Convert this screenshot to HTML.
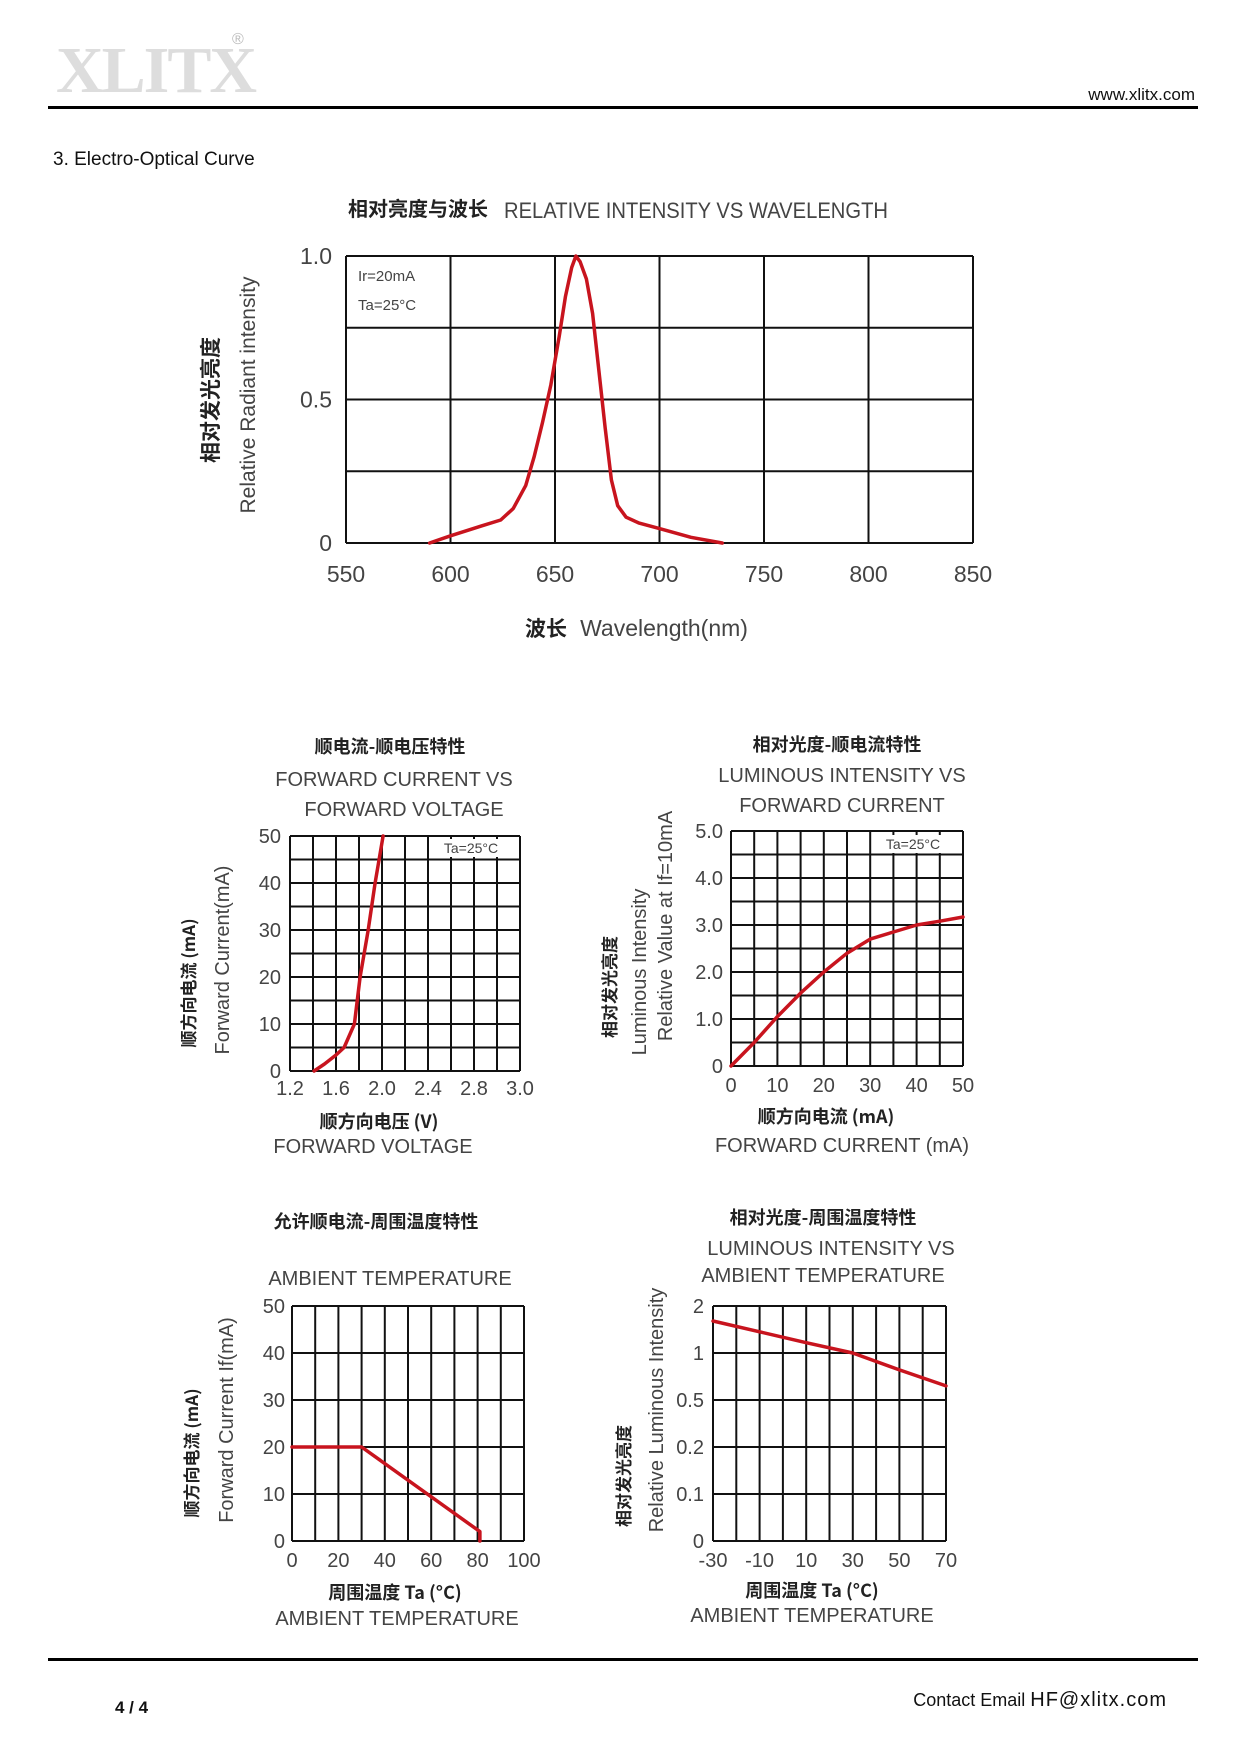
<!DOCTYPE html>
<html><head><meta charset="utf-8">
<style>
html,body{margin:0;padding:0;background:#fff;}
svg text{font-family:"Liberation Sans Narrow","Liberation Sans","Noto Sans CJK SC",sans-serif;fill:#444;}
.cn{font-family:"Noto Sans CJK SC","WenQuanYi Zen Hei",sans-serif;font-weight:bold;fill:#222;}
</style></head>
<body>
<svg id="page" width="1240" height="1754" viewBox="0 0 1240 1754" xmlns="http://www.w3.org/2000/svg">
<g>
<text x="56" y="92" style="font-family:'Liberation Serif',serif;font-weight:bold;font-size:66px;fill:#ddd;letter-spacing:-2px">XLITX</text>
<text x="232" y="44" style="font-size:16px;fill:#bbb">®</text>
<text x="1195" y="100" text-anchor="end" style="font-family:'Liberation Sans',sans-serif;font-size:17px;fill:#111">www.xlitx.com</text>
<rect x="48" y="106" width="1150" height="3" fill="#000"/>
</g>
<text x="53" y="165" style="font-family:'Liberation Sans',sans-serif;font-size:19px;fill:#111">3. Electro-Optical Curve</text>
<g id="charts"></g>
<g>
<rect x="48" y="1658" width="1150" height="3" fill="#000"/>
<text x="115" y="1713" style="font-family:'Liberation Sans',sans-serif;font-weight:bold;font-size:17px;fill:#111">4 / 4</text>
<text x="1167" y="1706" text-anchor="end" style="font-family:'Liberation Sans',sans-serif;font-size:18px;fill:#111">Contact Email <tspan style="font-size:20px;letter-spacing:1px"> HF@xlitx.com</tspan></text>
</g>
</svg>
<script>
// Chart 1: relative intensity vs wavelength
const wlX = [590,600,615,624,630,636,640,644,648,652,655,658,660,662,665,668,671,674,677,680,684,690,700,715,730];
const wlY = [0,0.025,0.06,0.08,0.12,0.2,0.3,0.42,0.55,0.72,0.86,0.96,1.0,0.98,0.92,0.8,0.6,0.4,0.22,0.13,0.09,0.07,0.05,0.02,0];
const wlXTicks = ['550','600','650','700','750','800','850'];
const wlYTicks = ['0','0.5','1.0'];
// Chart 2: forward current vs forward voltage
const fvV = [1.41,1.5,1.6,1.67,1.76,1.81,1.88,1.94,2.01];
const fvI = [0,1.5,3.4,5,10,20,30,40,50];
const fvXTicks = ['1.2','1.6','2.0','2.4','2.8','3.0'];
const fvYTicks = ['0','10','20','30','40','50'];
// Chart 3: luminous intensity vs forward current
const liI = [0,5,10,15,20,25,30,35,40,45,50];
const liL = [0,0.5,1.05,1.55,2.0,2.4,2.7,2.85,3.0,3.08,3.17];
const liXTicks = ['0','10','20','30','40','50'];
const liYTicks = ['0','1.0','2.0','3.0','4.0','5.0'];
// Chart 4: derating
const drT = [0,30,81,81];
const drI = [20,20,2,0];
const drXTicks = ['0','20','40','60','80','100'];
const drYTicks = ['0','10','20','30','40','50'];
// Chart 5: luminous intensity vs ambient temperature
const ltT = [-30,-10,10,30,50,70];
const ltL = [1.68,1.45,1.22,1.0,0.82,0.65];
const ltXTicks = ['-30','-10','10','30','50','70'];
const ltYTicks = ['0','0.1','0.2','0.5','1','2'];

const NS='http://www.w3.org/2000/svg';
const root=document.getElementById('charts');
function mk(tag,attrs,parent){const e=document.createElementNS(NS,tag);for(const k in attrs)e.setAttribute(k,attrs[k]);(parent||root).appendChild(e);return e;}
function txt(s,x,y,size,anchor,cls,parent,rot){const e=mk('text',{x:x,y:y,'font-size':size,'text-anchor':anchor||'middle'},parent);if(cls)e.setAttribute('class',cls);if(rot)e.setAttribute('transform','rotate(-90 '+x+' '+y+')');e.textContent=s;return e;}

function chart(o){
  const g=mk('g',{});
  
  
  const {L,R,T,B}=o;
  const sx=v=>L+(v-o.x0)/(o.x1-o.x0)*(R-L);
  const sy=o.sy?o.sy:(v=>B-(v-o.y0)/(o.y1-o.y0)*(B-T));
  const grid=mk('g',{},g);
  
  
  for(let i=0;i<=o.cols;i++){const x=L+i*(R-L)/o.cols;mk('line',{x1:x,x2:x,y1:T,y2:B,stroke:'#111','stroke-width':o.sw||2},grid);}
  for(let j=0;j<=o.rows;j++){const y=T+j*(B-T)/o.rows;mk('line',{x1:L,x2:R,y1:y,y2:y,stroke:'#111','stroke-width':o.sw||2},grid);}
  o.xt.forEach((t,i)=>{const e=txt(t,L+i*(R-L)/(o.xt.length-1),o.xly,o.fs,'middle',null,g);});
  o.yt.forEach((t,i)=>{const e=txt(t,o.ylx,B-i*(B-T)/(o.yt.length-1)+o.fs*0.35,o.fs,'end',null,g);});
  const pts=o.xs.map((v,i)=>sx(v).toFixed(1)+','+sy(o.ys[i]).toFixed(1)).join(' ');
  const pl=mk('polyline',{points:pts,fill:'none',stroke:'#c8141e','stroke-width':o.lw||3.5,'stroke-linejoin':'round','stroke-linecap':'round'},g);
  
  
  return g;
}
function label(s,x,y,size,cls,name,rot){const e=txt(s,x,y,size,'middle',cls,root,rot);return e;}
function note(s,x,y,size,name){const r=mk('rect',{x:x-32,y:y-14,width:64,height:18,fill:'#fff'});const e=txt(s,x,y,size,'middle',null);}

// Chart 1
chart({name:'wavelength-chart',L:346,R:973,T:256,B:543,x0:550,x1:850,y0:0,y1:1,cols:6,rows:4,xt:wlXTicks,yt:wlYTicks,xs:wlX,ys:wlY,xly:582,ylx:332,fs:23});
label('相对亮度与波长',418,216,20,'cn','chart1-title-cn');
const t1=txt('RELATIVE  INTENSITY  VS  WAVELENGTH',504,218,22,'start',null);


t1.setAttribute('textLength','384');
t1.setAttribute('lengthAdjust','spacingAndGlyphs');
label('波长',546,636,21,'cn','x-axis-title-cn');
label('Wavelength(nm)',664,636,23,null,'x-axis-title');
label('相对发光亮度',218,400,21,'cn','y-axis-title-cn',true);
label('Relative  Radiant  intensity',255,395,21,null,'y-axis-title',true);
const a1=txt('Ir=20mA',358,281,15,'start',null);
const a2=txt('Ta=25°C',358,310,15,'start',null);

// Chart 2
chart({name:'forward-voltage-chart',L:290,R:520,T:836,B:1071,x0:1.2,x1:3.2,y0:0,y1:50,cols:10,rows:10,xt:fvXTicks,yt:fvYTicks,xs:fvV,ys:fvI,xly:1095,ylx:281,fs:20});
label('顺电流-顺电压特性',390,753,18,'cn','chart2-title-cn');
label('FORWARD  CURRENT  VS',394,786,20,null,'chart2-title-1');
label('FORWARD  VOLTAGE',404,816,20,null,'chart2-title-2');
note('Ta=25°C',471,853,14,'chart2-condition');
label('顺方向电压 (V)',379,1128,18,'cn','chart2-x-title-cn');
label('FORWARD  VOLTAGE',373,1153,20,null,'chart2-x-title');
label('顺方向电流 (mA)',195,983,17,'cn','chart2-y-title-cn',true);
label('Forward  Current(mA)',229,960,20,null,'chart2-y-title',true);

// Chart 3
chart({name:'luminous-current-chart',L:731,R:963,T:831,B:1066,x0:0,x1:50,y0:0,y1:5,cols:10,rows:10,xt:liXTicks,yt:liYTicks,xs:liI,ys:liL,xly:1092,ylx:723,fs:20});
label('相对光度-顺电流特性',837,751,18,'cn','chart3-title-cn');
label('LUMINOUS  INTENSITY  VS',842,782,20,null,'chart3-title-1');
label('FORWARD  CURRENT',842,812,20,null,'chart3-title-2');
note('Ta=25°C',913,849,14,'chart3-condition');
label('顺方向电流 (mA)',826,1123,18,'cn','chart3-x-title-cn');
label('FORWARD  CURRENT  (mA)',842,1152,20,null,'chart3-x-title');
label('相对发光亮度',616,987,17,'cn','chart3-y-title-cn',true);
label('Luminous  Intensity',646,972,20,null,'chart3-y-title-1',true);
label('Relative  Value  at  If=10mA',672,926,20,null,'chart3-y-title-2',true);

// Chart 4
chart({name:'derating-chart',L:292,R:524,T:1306,B:1541,x0:0,x1:100,y0:0,y1:50,cols:10,rows:5,xt:drXTicks,yt:drYTicks,xs:drT,ys:drI,xly:1567,ylx:285,fs:20});
label('允许顺电流-周围温度特性',376,1228,18,'cn','chart4-title-cn');
label('AMBIENT  TEMPERATURE',390,1285,20,null,'chart4-title');
label('周围温度 Ta (°C)',395,1599,18,'cn','chart4-x-title-cn');
label('AMBIENT  TEMPERATURE',397,1625,20,null,'chart4-x-title');
label('顺方向电流 (mA)',198,1453,17,'cn','chart4-y-title-cn',true);
label('Forward  Current  If(mA)',233,1420,20,null,'chart4-y-title',true);

// Chart 5 (categorical log-like y axis)
const ltLevels=[0,0.1,0.2,0.5,1,2];
function ltScale(v){let k=0;while(k<ltLevels.length-2&&v>ltLevels[k+1])k++;const f=(v-ltLevels[k])/(ltLevels[k+1]-ltLevels[k]);return 1541-(k+f)*(1541-1306)/5;}
chart({name:'luminous-temperature-chart',L:713,R:946,T:1306,B:1541,x0:-30,x1:70,cols:10,rows:5,xt:ltXTicks,yt:ltYTicks,xs:ltT,ys:ltL,sy:ltScale,xly:1567,ylx:704,fs:20});
label('相对光度-周围温度特性',823,1224,18,'cn','chart5-title-cn');
label('LUMINOUS  INTENSITY  VS',831,1255,20,null,'chart5-title-1');
label('AMBIENT  TEMPERATURE',823,1282,20,null,'chart5-title-2');
label('周围温度 Ta (°C)',812,1597,18,'cn','chart5-x-title-cn');
label('AMBIENT  TEMPERATURE',812,1622,20,null,'chart5-x-title');
label('相对发光亮度',630,1476,17,'cn','chart5-y-title-cn',true);
label('Relative  Luminous  Intensity',663,1410,20,null,'chart5-y-title',true);
</script>
</body></html>
